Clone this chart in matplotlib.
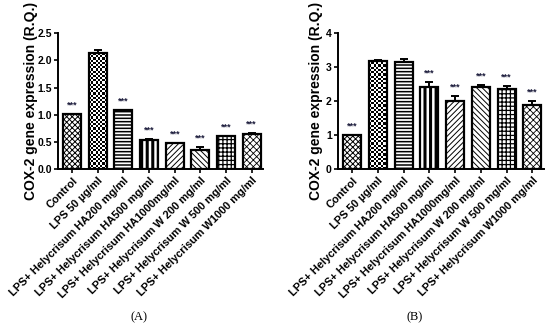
import numpy as np
import matplotlib
matplotlib.use("Agg")
import matplotlib.pyplot as plt

plt.rcParams.update({
    "font.family": "Liberation Sans",
    "font.weight": "bold",
    "hatch.linewidth": 0.8,
})

categories = [
    "Control", "LPS 50 µg/ml", "LPS+ Helycrisum HA200 mg/ml",
    "LPS+ Helycrisum HA500 mg/ml", "LPS+ Helycrisum HA1000mg/ml",
    "LPS+ Helycrisum W 200 mg/ml", "LPS+ Helycrisum W 500 mg/ml",
    "LPS+ Helycrisum W1000 mg/ml",
]
hatches = ["xxxxxx", None, "-----", "|||", "//////", "\\\\\\\\\\\\", "++++", "xxxxx"]
hatch_lw = [0.7, 0.8, 1.1, 2.2, 0.7, 0.7, 0.9, 0.6]

vals_a = [1.01, 2.13, 1.08, 0.53, 0.48, 0.35, 0.60, 0.65]
err_a = [0.0, 0.07, 0.01, 0.03, 0.0, 0.05, 0.01, 0.02]
sig_a = ["***", "", "***", "***", "***", "***", "***", "***"]

vals_b = [1.01, 3.19, 3.16, 2.42, 2.02, 2.43, 2.35, 1.89]
err_b = [0.0, 0.02, 0.07, 0.16, 0.12, 0.05, 0.10, 0.11]
sig_b = ["***", "", "", "***", "***", "***", "***", "***"]

fig = plt.figure(figsize=(5.5, 3.27), dpi=100)
ax_a = fig.add_axes([0.1055, 0.483, 0.373, 0.415])
ax_b = fig.add_axes([0.6145, 0.483, 0.3745, 0.415])


def checker(ax, rect, cell_px=2.2):
    # checkerboard fill clipped to a bar
    x0, y0 = rect.get_x(), rect.get_y()
    x1, y1 = x0 + rect.get_width(), y0 + rect.get_height()
    p0 = ax.transData.transform((x0, y0))
    p1 = ax.transData.transform((x1, y1))
    nx = max(1, int(round(abs(p1[0] - p0[0]) / cell_px)))
    ny = max(1, int(round(abs(p1[1] - p0[1]) / cell_px)))
    board = (np.add.outer(np.arange(ny), np.arange(nx)) % 2).astype(float)
    im = ax.imshow(board, cmap="gray", extent=(x0, x1, y0, y1),
                   interpolation="nearest", aspect="auto", zorder=1.5)
    im.set_clip_path(rect)


def draw(ax, vals, err, sig, ymax, yticks, ytl, star_off, label_x):
    x = np.arange(len(vals))
    ax.set_xlim(-0.55, 7.45)
    ax.set_ylim(0, ymax)
    bars = ax.bar(x, vals, width=0.7, color="white", edgecolor="black",
                  linewidth=1.6, zorder=2)
    for b, h, lw in zip(bars, hatches, hatch_lw):
        if h:
            b.set_hatch(h)
            b.set_hatch_linewidth(lw)
        else:
            b.set_facecolor("none")
            checker(ax, b)
    ax.errorbar(x, vals, yerr=[np.zeros(len(err)), err], fmt="none",
                ecolor="black", elinewidth=1.4, capsize=3, capthick=1.4,
                zorder=3)
    for xi, v, e, s in zip(x, vals, err, sig):
        if s:
            ax.text(xi, v + e + star_off, s, ha="center", va="bottom",
                    fontsize=6.5, color="#1a1a3a")
    ax.set_xlim(-0.55, 7.45)
    ax.set_ylim(0, ymax)
    ax.set_yticks(yticks)
    ax.set_yticklabels(ytl, fontsize=7.5, fontweight="bold")
    ax.set_xticks(x)
    ax.set_xticklabels(categories, rotation=45, ha="right",
                       rotation_mode="anchor", fontsize=7.9, fontweight="bold")
    ax.spines["top"].set_visible(False)
    ax.spines["right"].set_visible(False)
    ax.spines["left"].set_linewidth(1.4)
    ax.spines["bottom"].set_linewidth(1.4)
    ax.tick_params(width=1.2, length=3, pad=1.5)
    ax.set_ylabel("COX-2 gene expression (R.Q.)", fontsize=10,
                  fontweight="bold")
    ax.yaxis.set_label_coords(label_x, 0.5)


draw(ax_a, vals_a, err_a, sig_a, 2.5, [0, 0.5, 1.0, 1.5, 2.0, 2.5],
     ["0.0", "0.5", "1.0", "1.5", "2.0", "2.5"], 0.08, -0.10)
draw(ax_b, vals_b, err_b, sig_b, 4, [0, 1, 2, 3, 4],
     ["0", "1", "2", "3", "4"], 0.13, -0.075)

fig.text(0.252, 0.03, "(A)", family="Liberation Serif", fontweight="normal",
         fontsize=9, ha="center", va="center")
fig.text(0.753, 0.03, "(B)", family="Liberation Serif", fontweight="normal",
         fontsize=9, ha="center", va="center")

fig.savefig("out.png", dpi=100)
